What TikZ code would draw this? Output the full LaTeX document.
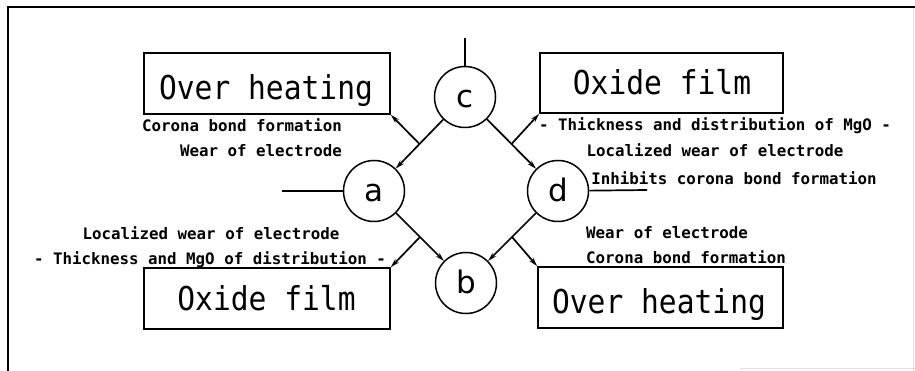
\documentclass[tikz,border=0pt]{standalone}
\usepackage{fontspec}
\newfontfamily\monofont{DejaVu Sans Mono}
\newfontfamily\letterfont{DejaVu Sans}
\usetikzlibrary{arrows.meta,calc}

\begin{document}
\begin{tikzpicture}[x=1pt,y=-1pt,
  frame/.style={line width=2pt},
  faint/.style={line width=1pt, black!12},
  state/.style={circle, draw, line width=1.5pt, minimum size=61pt, inner sep=0pt,
    text height=22pt, text depth=0pt, font=\letterfont\fontsize{31}{33}\selectfont},
  effect/.style={draw, line width=1.7pt, minimum width=246pt, minimum height=61pt, inner sep=0pt},
  bigtext/.style={anchor=base, inner sep=0pt, font=\monofont\fontsize{29.6}{32}\selectfont},
  note/.style={inner sep=0pt, font=\monofont\bfseries\fontsize{15.8}{18}\selectfont},
  link/.style={line width=1.7pt},
  flow/.style={link, -{Stealth[length=9pt, width=5pt]}},
]
\useasboundingbox (0,0) rectangle (915,371);

% frame
\draw[frame] (8,371) -- (8,7) -- (915,7);
\draw[faint] (913,8) -- (913,371);
\draw[faint] (740,368) -- (915,368);

% states
\node[state] (c) at (465,97) {c};
\node[state] (a) at (374,191) {a};
\node[state] (d) at (558,191) {d};
\node[state] (b) at (466,283) {b};

% effect boxes
\node[effect] (oh1) at (267,83.5) {};
\node[effect, minimum width=243pt, minimum height=60pt] (ox1) at (661.5,83) {};
\node[effect] (ox2) at (267,298.5) {};
\node[effect, minimum width=245pt] (oh2) at (660.5,297.5) {};

\node[bigtext] (oh1t) at (266,100) {\scalebox{1}[1.11]{Over heating}};
\node[bigtext] (ox1t) at (662,95) {\scalebox{1}[1.11]{Oxide film}};
\node[bigtext] (ox2t) at (266.5,310) {\scalebox{1}[1.11]{Oxide film}};
\node[bigtext] (oh2t) at (659,313) {\scalebox{1}[1.11]{Over heating}};

% free ends
\coordinate (cin) at (465,38);
\coordinate (ain) at (282,191);
\coordinate (dout) at (647,190);
\draw[link] (cin) -- (c);
\draw[link] (ain) -- (a);
\draw[link] (d) -- (dout);

% transitions
\draw[flow] (c) -- (a);
\draw[flow] (c) -- (d);
\draw[flow] (a) -- (b);
\draw[flow] (d) -- (b);

% branches to the boxes
\coordinate (ca) at ($(c)!0.5!(a)$);
\coordinate (cd) at ($(c)!0.5!(d)$);
\coordinate (ab) at ($(a)!0.5!(b)$);
\coordinate (db) at ($(d)!0.5!(b)$);
\draw[flow] (ca) -- (oh1.south east);
\draw[flow] (cd) -- (ox1.south west);
\draw[flow] (ab) -- (ox2.north east);
\draw[flow] (db) -- (oh2.north west);

% notes
\node[note, anchor=base east] (n1) at (342,132) {Corona bond formation};
\node[note, anchor=base east] (n2) at (342,157) {Wear of electrode};
\node[note, anchor=base] (n3) at (715,131) {- Thickness and distribution of MgO -};
\node[note, anchor=base] (n4) at (715,157) {Localized wear of electrode};
\node[note, anchor=base] (n5) at (734,185) {Inhibits corona bond formation};
\node[note, anchor=base] (n6) at (211,240) {Localized wear of electrode};
\node[note, anchor=base] (n7) at (210,265) {- Thickness and MgO of distribution -};
\node[note, anchor=base west] (n8) at (586,239) {Wear of electrode};
\node[note, anchor=base west] (n9) at (586,263) {Corona bond formation};
\end{tikzpicture}
\end{document}
